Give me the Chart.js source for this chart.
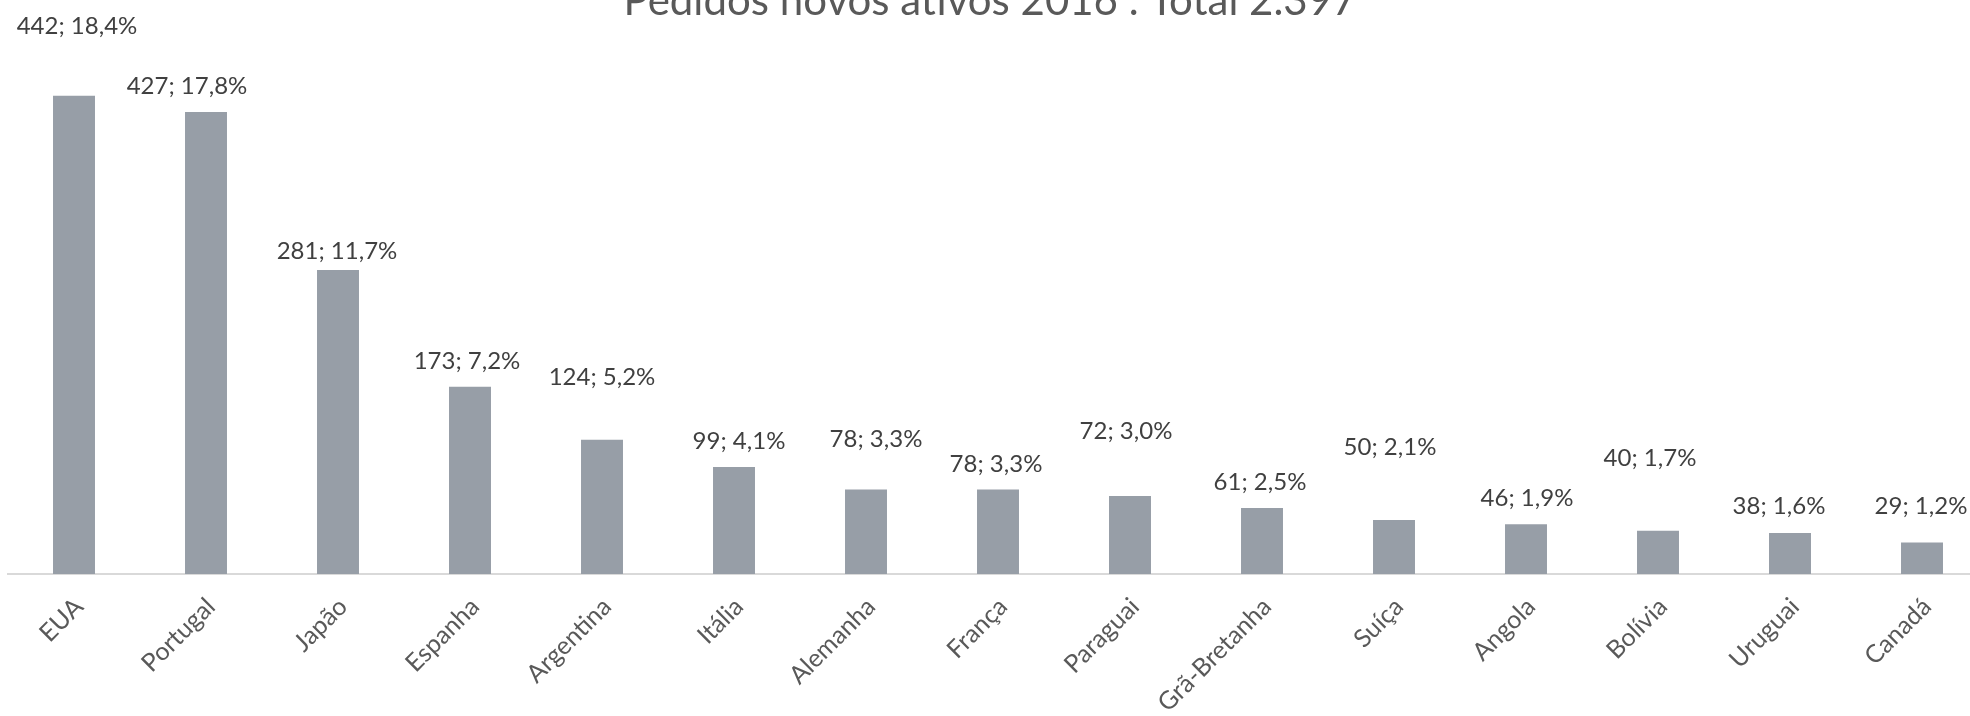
<!DOCTYPE html>
<html>
<head>
<meta charset="utf-8">
<script src="https://cdn.jsdelivr.net/npm/chart.js@4"></script>
<style>
  html, body { margin: 0; padding: 0; background: #fff; overflow: hidden; }
  #wrap { position: relative; width: 1990px; height: 716px; }
</style>
</head>
<body>
<div id="wrap"><canvas id="myChart"></canvas></div>
<script>
const titleText = "Pedidos novos ativos 2016 . Total 2.397";
const countries = ["EUA", "Portugal", "Japão", "Espanha", "Argentina", "Itália", "Alemanha", "França",
  "Paraguai", "Grã-Bretanha", "Suíça", "Angola", "Bolívia", "Uruguai", "Canadá"];
const pedidos = [442, 427, 281, 173, 124, 99, 78, 78, 72, 61, 50, 46, 40, 38, 29];
const percentuais = ["18,4%", "17,8%", "11,7%", "7,2%", "5,2%", "4,1%", "3,3%", "3,3%",
  "3,0%", "2,5%", "2,1%", "1,9%", "1,7%", "1,6%", "1,2%"];

// labels were moved by hand in the original, so each one has its own nudge (px)
const labelNudge = [[3, -69], [-19, -26], [-1, -19], [-3, -26], [0, -63], [5, -26], [10, -50], [-2, -25],
  [-4, -65], [-2, -26], [-4, -73], [1, -26], [-8, -72], [-11, -27], [-1, -36]];

const ctx = document.getElementById("myChart");

const labelPlugin = {
  id: "barLabels",
  afterDatasetsDraw(chart) {
    const c = chart.ctx;
    const meta = chart.getDatasetMeta(0);
    c.save();
    c.font = "24px Lato";
    c.fillStyle = "#404040";
    c.textAlign = "center";
    c.textBaseline = "middle";
    meta.data.forEach((bar, i) => {
      const txt = pedidos[i] + "; " + percentuais[i];
      c.fillText(txt, bar.x + labelNudge[i][0], bar.y + labelNudge[i][1]);
    });
    c.restore();
  },
};

const titlePlugin = {
  id: "topTitle",
  afterDraw(chart) {
    const c = chart.ctx;
    c.save();
    c.font = "42px Lato";
    c.fillStyle = "#595959";
    c.textAlign = "center";
    c.textBaseline = "alphabetic";
    c.fillText(titleText, 990, 15);
    c.restore();
  },
};

var chart = new Chart(ctx, {
  type: "bar",
  data: {
    labels: countries,
    datasets: [
      {
        label: "Pedidos",
        data: pedidos,
        backgroundColor: "rgb(151,158,167)",
        barPercentage: 0.318,
        categoryPercentage: 1,
      },
    ],
  },
  options: {
    responsive: true,
    maintainAspectRatio: false,
    animation: false,
    layout: {
      padding: { left: 8, right: 2, top: 33, bottom: 0 },
    },
    plugins: {
      legend: { display: false },
      tooltip: { enabled: false },
      title: { display: false },
    },
    scales: {
      x: {
        grid: { display: false, drawTicks: false },
        border: { display: true, color: "#D9D9D9", width: 2 },
        ticks: {
          color: "#595959",
          font: { family: "Lato", size: 25 },
          maxRotation: 45,
          minRotation: 45,
          padding: 18,
          labelOffset: 5,
        },
        afterFit(scale) {
          scale.height = 142;
        },
      },
      y: {
        display: false,
        min: 0,
        max: 500,
      },
    },
  },
  plugins: [labelPlugin, titlePlugin],
});
</script>
</body>
</html>
